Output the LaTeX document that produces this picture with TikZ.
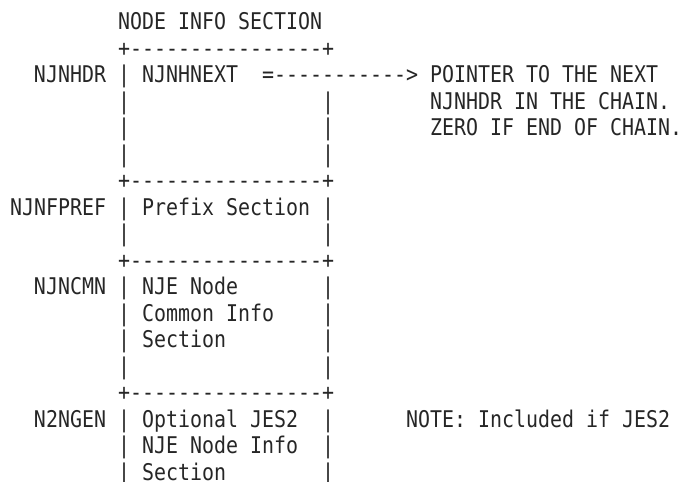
\documentclass[tikz,border=0pt]{standalone}
\usepackage{fontspec}
\newfontfamily\asciifont[FakeStretch=0.867]{DejaVu Sans Mono}
\begin{document}
\begin{tikzpicture}[x=1pt,y=1pt,
  txt/.style={anchor=base west,inner sep=0pt,outer sep=0pt,text=black!85,
    font=\asciifont\fontsize{23}{26.5}\selectfont}]
\useasboundingbox (0,0) rectangle (678,-482);
% grid: column k left edge = 10+12k ; row n baseline = -(29.5+26.53(n-1))
\def\cx#1{\fpeval{10+12*(#1)}}
\def\ry#1{\fpeval{-(29.5+26.53*((#1)-1))}}
% title
\node[txt] (title) at (\cx{9},\ry{1}) {NODE INFO SECTION};
% horizontal borders
\foreach \r/\n in {2/b1,7/b2,10/b3,15/b4}
  \node[txt] (\n) at (\cx{9},\ry{\r}) {+----------------+};
% left bars
\foreach \r in {3,4,5,6,8,9,11,12,13,14,16,17,18}
  \node[txt] (lb\r) at (\cx{9},\ry{\r}) {|};
% right bars
\foreach \r in {4,5,6,8,9,11,12,13,14,16,17,18}
  \node[txt] (rb\r) at (\cx{26},\ry{\r}) {|};
% labels
\node[txt] (njnhdr) at (\cx{2},\ry{3}) {NJNHDR};
\node[txt] (njnfpref) at (\cx{0},\ry{8}) {NJNFPREF};
\node[txt] (njncmn) at (\cx{2},\ry{11}) {NJNCMN};
\node[txt] (n2ngen) at (\cx{2},\ry{16}) {N2NGEN};
% contents
\node[txt] (next) at (\cx{11},\ry{3}) {NJNHNEXT};
\node[txt] (prefix) at (\cx{11},\ry{8}) {Prefix Section};
\node[txt] (cmn1) at (\cx{11},\ry{11}) {NJE Node};
\node[txt] (cmn2) at (\cx{11},\ry{12}) {Common Info};
\node[txt] (cmn3) at (\cx{11},\ry{13}) {Section};
\node[txt] (gen1) at (\cx{11},\ry{16}) {Optional JES2};
\node[txt] (gen2) at (\cx{11},\ry{17}) {NJE Node Info};
\node[txt] (gen3) at (\cx{11},\ry{18}) {Section};
% arrow
\node[txt] (arrow) at (\cx{21},\ry{3}) {=----------->};
% pointer text
\node[txt] (p1) at (\cx{35},\ry{3}) {POINTER TO THE NEXT};
\node[txt] (p2) at (\cx{35},\ry{4}) {NJNHDR IN THE CHAIN.};
\node[txt] (p3) at (\cx{35},\ry{5}) {ZERO IF END OF CHAIN.};
% note
\node[txt] (note) at (\cx{33},\ry{16}) {NOTE: Included if JES2};
\end{tikzpicture}
\end{document}
